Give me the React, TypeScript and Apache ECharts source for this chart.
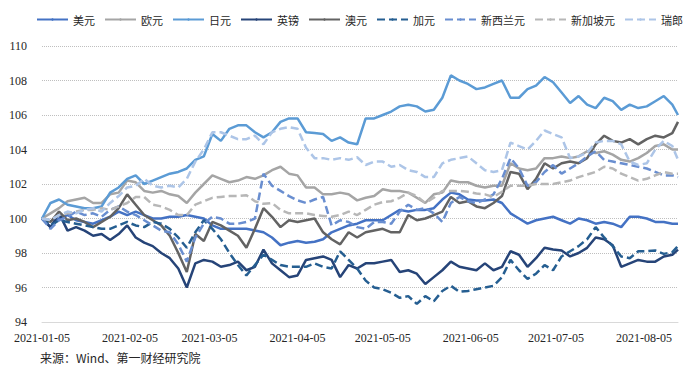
import React, { useEffect, useRef } from "react";
import * as echarts from "echarts";

// sample dates (every 3 days + last day)
const dates = [
  "2021-01-05","2021-01-08","2021-01-11","2021-01-14","2021-01-17","2021-01-20","2021-01-23","2021-01-26","2021-01-29",
  "2021-02-01","2021-02-04","2021-02-07","2021-02-10","2021-02-13","2021-02-16","2021-02-19","2021-02-22","2021-02-25","2021-02-28",
  "2021-03-03","2021-03-06","2021-03-09","2021-03-12","2021-03-15","2021-03-18","2021-03-21","2021-03-24","2021-03-27","2021-03-30",
  "2021-04-02","2021-04-05","2021-04-08","2021-04-11","2021-04-14","2021-04-17","2021-04-20","2021-04-23","2021-04-26","2021-04-29",
  "2021-05-02","2021-05-05","2021-05-08","2021-05-11","2021-05-14","2021-05-17","2021-05-20","2021-05-23","2021-05-26","2021-05-29",
  "2021-06-01","2021-06-04","2021-06-07","2021-06-10","2021-06-13","2021-06-16","2021-06-19","2021-06-22","2021-06-25","2021-06-28",
  "2021-07-01","2021-07-04","2021-07-07","2021-07-10","2021-07-13","2021-07-16","2021-07-19","2021-07-22","2021-07-25","2021-07-28","2021-07-31",
  "2021-08-03","2021-08-06","2021-08-09","2021-08-12","2021-08-15","2021-08-17",
];

const tickDates = [
  "2021-01-05","2021-02-05","2021-03-05","2021-04-05","2021-05-05","2021-06-05","2021-07-05","2021-08-05",
];

const yTicks = { min: 94, max: 110, step: 2 };

const usd = [
  100.0, 99.5, 100.0, 100.2, 99.9, 99.8, 99.7, 99.9, 100.1, 100.4,
  100.2, 100.4, 100.2, 100.0, 100.0, 100.1, 100.1, 100.2, 100.1, 100.0,
  99.6, 99.4, 99.4, 99.4, 99.4, 99.3, 99.2, 98.9, 98.45, 98.6,
  98.7, 98.6, 98.65, 98.8, 99.2, 99.4, 99.6, 99.7, 99.9, 99.9,
  99.9, 100.2, 100.5, 100.4, 100.5, 100.5, 100.6, 101.1, 101.5, 101.4,
  101.1, 101.05, 101.05, 101.1, 100.9, 100.3, 100.0, 99.7, 99.9, 100.0,
  100.1, 99.9, 99.7, 100.0, 99.9, 99.7, 99.8, 99.7, 99.5, 100.1,
  100.1, 100.0, 99.8, 99.8, 99.7, 99.7,
];

const eur = [
  100.0, 100.3, 100.6, 101.0, 101.1, 101.2, 100.9, 100.9, 101.4, 101.5,
  102.2, 102.1, 101.6, 101.5, 101.6, 101.4, 101.3, 100.9, 101.5, 102.0,
  102.5, 102.3, 102.1, 102.2, 102.4, 102.3, 102.5, 102.8, 103.0, 102.6,
  102.5, 101.8, 101.8, 101.4, 101.4, 101.5, 101.4, 101.05, 101.2, 101.3,
  101.7, 101.6, 101.6, 101.5, 101.2, 100.9, 101.4, 101.5, 102.2, 102.1,
  102.1, 101.9, 101.8, 101.9, 101.9, 103.2, 102.9, 102.8, 102.9, 103.5,
  103.5, 103.6, 103.5, 103.6, 103.9, 103.8, 103.9, 103.7, 103.4, 103.3,
  103.5, 103.8, 104.2, 104.3, 104.0, 104.0,
];

const jpy = [
  100.0, 100.9, 101.1, 100.8, 100.7, 100.6, 100.6, 100.7, 101.5, 101.8,
  102.3, 102.5, 102.0, 102.2, 102.4, 102.6, 102.7, 102.9, 103.4, 103.6,
  104.9, 104.5, 105.2, 105.4, 105.4, 105.0, 104.7, 105.0, 105.6, 105.8,
  105.8, 105.0, 104.95, 104.9, 104.5, 104.7, 104.4, 104.3, 105.8, 105.8,
  106.0, 106.2, 106.5, 106.6, 106.5, 106.2, 106.3, 107.0, 108.3, 108.0,
  107.8, 107.5, 107.6, 107.8, 108.0, 107.0, 107.0, 107.5, 107.7, 108.2,
  107.9, 107.3, 106.7, 107.1, 106.6, 106.4, 107.0, 106.8, 106.3, 106.6,
  106.4, 106.5, 106.8, 107.1, 106.6, 106.0,
];

const gbp = [
  100.0, 99.5, 100.3, 99.3, 99.5, 99.3, 99.0, 99.1, 98.75, 99.1,
  99.6, 98.9, 98.6, 98.4, 98.0, 97.7, 97.1, 96.0, 97.4, 97.6,
  97.5, 97.2, 97.3, 97.5, 97.0, 97.2, 98.2, 97.4, 97.0, 96.6,
  96.7, 97.6, 97.7, 97.8, 97.6, 96.6, 97.3, 97.1, 97.4, 97.4,
  97.5, 97.6, 96.9, 97.0, 96.8, 96.2, 96.6, 97.0, 97.5, 97.2,
  97.1, 97.0, 97.4, 97.0, 97.2, 98.1, 97.9, 97.2, 97.7, 98.3,
  98.2, 98.15, 97.8, 98.0, 98.3, 98.9, 98.8, 98.45, 97.2, 97.4,
  97.6, 97.5, 97.5, 97.8, 97.9, 98.2,
];

const aud = [
  100.0, 99.8, 100.4, 99.9, 100.0, 99.8, 99.5, 99.8, 100.1, 100.6,
  101.4, 100.8, 100.2, 99.9, 99.6, 99.0, 98.0, 96.9, 99.1, 98.7,
  99.8, 99.6, 99.3, 99.0, 98.3, 99.4, 100.6, 100.1, 99.5, 99.9,
  99.8, 99.9, 100.0, 99.2, 98.8, 98.5, 99.2, 98.9, 99.2, 99.3,
  99.4, 99.2, 99.2, 100.2, 99.9, 100.0, 100.2, 100.4, 101.25, 100.9,
  101.0, 100.7, 100.6, 100.9, 101.3, 102.7, 102.6, 101.7, 102.3, 103.2,
  102.9, 103.2, 103.3, 103.2, 103.5, 104.3, 104.8, 104.5, 104.4, 104.6,
  104.3, 104.6, 104.8, 104.7, 104.95, 105.6,
];

const cad = [
  100.0, 99.6, 99.9, 99.8, 99.7, 99.6, 99.5, 99.4, 99.4, 99.6,
  99.8, 99.6, 99.5, 99.8, 99.7, 99.4, 98.9, 98.3, 99.2, 99.9,
  99.4, 98.8, 98.0, 97.3, 96.7, 97.3, 97.9, 97.6, 97.3, 97.2,
  97.2, 97.2, 97.4, 97.2, 97.1, 98.1, 97.6, 97.1, 96.4, 96.0,
  95.9, 95.7, 95.4, 95.5, 95.05, 95.5, 95.2, 95.8, 96.1, 95.75,
  95.8, 95.9, 96.0, 96.1, 96.6, 97.6, 97.0, 96.5, 96.8, 97.3,
  97.0, 97.8, 98.1, 98.4, 98.8, 99.5, 98.9, 98.4, 97.8, 97.7,
  98.1, 98.1, 98.15, 97.95, 98.05, 98.4,
];

const nzd = [
  100.0, 99.4, 99.9, 100.1, 100.4, 100.2, 100.3, 100.1, 100.5, 100.7,
  100.4, 100.2, 99.9, 99.6, 99.3, 99.2, 98.5, 97.5, 98.9, 99.7,
  100.1, 100.0, 99.7, 99.7, 99.8, 100.0, 102.6, 101.9, 101.6, 101.3,
  101.05, 100.9, 101.1, 101.25, 99.6, 99.9, 99.8, 99.5, 99.4, 99.8,
  99.8, 99.7, 100.4, 100.8, 100.5, 100.6, 100.3, 99.8, 100.9, 101.25,
  101.0, 100.9, 101.1, 101.4, 102.3, 103.5, 102.9, 101.9, 102.1, 102.7,
  103.1, 102.6, 102.9, 103.2, 103.6, 103.9, 103.4, 103.3, 103.2, 103.1,
  103.0, 102.9, 102.7, 102.5, 102.5, 102.4,
];

const sgd = [
  100.0, 99.9, 100.2, 100.3, 100.4, 100.5, 100.5, 100.6, 100.5, 100.7,
  100.9, 101.25, 101.25, 100.8, 100.7, 100.5, 100.2, 100.2, 100.8, 101.0,
  101.2, 101.25, 101.3, 101.3, 101.35, 101.0, 100.85, 100.9, 100.5, 100.3,
  100.3, 100.3, 100.2, 100.15, 100.1, 100.2, 100.4, 100.2, 100.5, 100.8,
  100.95, 101.0, 101.2, 101.5, 101.3, 100.9, 101.2, 101.6, 101.6, 101.6,
  101.55, 101.45, 101.4, 101.25, 101.55, 101.9, 101.9, 101.9, 102.0, 102.0,
  102.0, 102.1, 102.2, 102.4, 102.55, 102.7, 103.0, 102.9, 102.6, 102.4,
  102.2, 102.3, 102.5, 102.7, 102.6, 102.6,
];

const chf = [
  100.0, 99.9, 100.2, 100.4, 100.3, 100.5, 100.6, 100.4, 100.9, 101.3,
  101.8, 101.9, 102.3, 101.9, 101.8, 101.9, 101.8, 102.3, 103.3, 104.0,
  105.0, 105.0, 104.8, 104.6, 104.6, 104.8, 104.3, 105.0, 105.2, 105.3,
  105.2, 104.1, 103.5, 103.5, 103.4, 103.5, 103.4, 103.55, 103.1, 103.3,
  103.3, 103.0, 103.1, 102.8, 102.7, 102.4, 102.4, 103.2, 103.4, 103.5,
  103.6, 103.2, 102.8, 102.7, 102.8, 104.4, 104.2, 104.0, 104.5, 105.1,
  104.9, 104.7, 103.5, 103.6, 103.8, 104.4, 104.5, 104.5, 104.3, 103.3,
  103.1, 103.2, 104.0, 104.5, 104.2, 103.4,
];

const seriesNames = ["美元", "欧元", "日元", "英镑", "澳元", "加元", "新西兰元", "新加坡元", "瑞郎"];
const seriesValues = [usd, eur, jpy, gbp, aud, cad, nzd, sgd, chf];
const seriesColors = ["#4472C4", "#A5A5A5", "#5B9BD5", "#264478", "#636363", "#255E91", "#698ED0", "#B7B7B7", "#ADC5E7"];
const seriesDashed = [false, false, false, false, false, true, true, true, true];

const sourceText = "来源：Wind、第一财经研究院";

const DAY = 86400000;
function toUtc(s: string): number {
  const [y, m, d] = s.split("-").map(Number);
  return Date.UTC(y, m - 1, d);
}
const origin = toUtc(dates[0]);
function dayOf(s: string): number {
  return Math.round((toUtc(s) - origin) / DAY);
}
function pad(n: number) {
  return n < 10 ? "0" + n : "" + n;
}
function fmtDay(v: number): string {
  const d = new Date(origin + Math.round(v) * DAY);
  return d.getUTCFullYear() + "-" + pad(d.getUTCMonth() + 1) + "-" + pad(d.getUTCDate());
}

export default function App() {
  const ref = useRef<HTMLDivElement>(null);
  useEffect(() => {
    if (!ref.current) return;
    const chart = echarts.init(ref.current, null, { renderer: "svg" });
    const labelFont = "Liberation Serif";
    const option: any = {
      animation: false,
      backgroundColor: "#ffffff",
      legend: {
        left: 36,
        top: 14,
        width: 654,
        padding: 0,
        itemWidth: 31,
        itemHeight: 3,
        itemGap: 9,
        textStyle: { fontSize: 11, fontFamily: "Noto Sans CJK SC", color: "#262626" },
        data: seriesNames,
      },
      grid: { left: 42, right: 12, top: 46, bottom: 53 },
      xAxis: {
        type: "value",
        min: 0,
        max: dayOf(dates[dates.length - 1]),
        axisLine: { show: true, lineStyle: { color: "#D9D9D9", width: 1 } },
        axisTick: { show: false },
        splitLine: { show: false },
        axisLabel: {
          customValues: tickDates.map(dayOf),
          formatter: (v: number) => fmtDay(v),
          color: "#262626",
          fontFamily: labelFont,
          fontSize: 12,
          margin: 10,
          hideOverlap: false,
        },
      },
      yAxis: {
        type: "value",
        min: yTicks.min,
        max: yTicks.max,
        interval: yTicks.step,
        axisLine: { show: false },
        axisTick: { show: false },
        splitLine: { show: true, lineStyle: { type: "dotted", color: "#BFBFBF", width: 1 } },
        axisLabel: { margin: 15, color: "#262626", fontFamily: labelFont, fontSize: 12 },
      },
      graphic: [
        {
          type: "text",
          left: 40,
          top: 351,
          style: { text: sourceText, fontSize: 12, fontFamily: "Noto Sans CJK SC", fill: "#262626" },
        },
      ],
      series: seriesNames.map((name, k) => ({
        name,
        type: "line",
        symbol: "none",
        showSymbol: false,
        data: dates.map((d, i) => [dayOf(d), seriesValues[k][i]]),
        itemStyle: { color: seriesColors[k] },
        lineStyle: {
          color: seriesColors[k],
          width: 2.5,
          type: seriesDashed[k] ? [8, 4] : "solid",
        },
      })),
    };
    chart.setOption(option);
    return () => chart.dispose();
  }, []);
  return (
    <div
      ref={ref}
      style={{ position: "fixed", left: 0, top: 0, width: 690, height: 375, background: "#fff" }}
    />
  );
}
